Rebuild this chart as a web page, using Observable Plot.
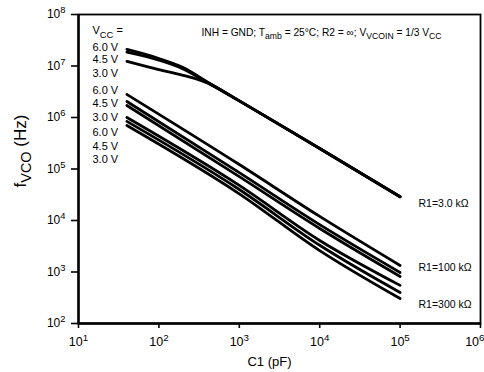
<!DOCTYPE html>
<html><head><meta charset="utf-8">
<script src="https://cdn.jsdelivr.net/npm/d3@7"></script>
<script src="https://cdn.jsdelivr.net/npm/@observablehq/plot@0.6"></script>
<style>
body{margin:0;background:#fff}
svg{font-family:"Liberation Sans",Arial,Helvetica,sans-serif}
</style>
</head><body><div id="chart"></div>
<script>
// ---- data ----
const vccLabels = ["6.0 V", "4.5 V", "3.0 V"];
const r1Labels = ["R1=3.0 kΩ", "R1=100 kΩ", "R1=300 kΩ"];
const xTicks = [1e1, 1e2, 1e3, 1e4, 1e5, 1e6];
const yTicks = [1e2, 1e3, 1e4, 1e5, 1e6, 1e7, 1e8];
const conditionText = "INH = GND; T_{amb} = 25°C; R2 = ∞; V_{VCOIN} = 1/3 V_{CC}";
const vccTitle = "V_{CC} =";
const xLabel = "C1 (pF)";
const yLabel = "f_{VCO} (Hz)";

// R1 = 3.0 kΩ
const c1A = [40, 100, 200, 400, 1000, 10000, 100000];
const f3k_60 = [2.1e7, 1.4e7, 9.3e6, 4.9e6, 2.1e6, 2.5e5, 2.9e4];
const f3k_45 = [1.85e7, 1.3e7, 8.8e6, 4.8e6, 2.1e6, 2.5e5, 2.9e4];
const f3k_30 = [1.23e7, 8.5e6, 6.6e6, 4.7e6, 2.1e6, 2.5e5, 2.9e4];
// R1 = 100 kΩ and 300 kΩ
const c1B = [40, 1000, 10000, 100000];
const f100k_60 = [2.8e6, 1.22e5, 1.2e4, 1.34e3];
const f100k_45 = [2.04e6, 8.5e4, 8.3e3, 980];
const f100k_30 = [1.71e6, 7.1e4, 7.0e3, 820];
const f300k_60 = [1.0e6, 4.8e4, 4.1e3, 550];
const f300k_45 = [8.4e5, 4.0e4, 3.3e3, 400];
const f300k_30 = [7.0e5, 3.3e4, 2.6e3, 305];

// ---- build table ----
const series = [
  ["3k-6.0", c1A, f3k_60], ["3k-4.5", c1A, f3k_45], ["3k-3.0", c1A, f3k_30],
  ["100k-6.0", c1B, f100k_60], ["100k-4.5", c1B, f100k_45], ["100k-3.0", c1B, f100k_30],
  ["300k-6.0", c1B, f300k_60], ["300k-4.5", c1B, f300k_45], ["300k-3.0", c1B, f300k_30]
];
const rows = series.flatMap(([id, xs, ys]) => xs.map((c, i) => ({id, c1: c, f: ys[i]})));

const legendRows = [0, 1, 2].flatMap(() => vccLabels);
const legendDy = [29, 41, 55, 72, 85, 99, 114, 128, 141];
const r1Dy = [185, 249, 286];

const expFmt = d => `10^{${Math.round(Math.log10(d))}}`;

const marks = [
  Plot.frame({stroke: "black", strokeWidth: 1.8}),
  Plot.axisX({ticks: xTicks, tickFormat: expFmt, tickSize: 5, tickPadding: 9, label: null, fontSize: 12.5, strokeWidth: 1.6}),
  Plot.axisY({ticks: yTicks, tickFormat: expFmt, tickSize: 7, tickPadding: 6, label: null, fontSize: 12, strokeWidth: 1.6}),
  Plot.ruleX([10], {stroke: "black", strokeWidth: 2.4}),
  Plot.ruleY([100], {stroke: "black", strokeWidth: 2.4}),
  Plot.line(rows, {x: "c1", y: "f", z: "id", stroke: "black", strokeWidth: 2.8, curve: "monotone-x"}),
  Plot.text([vccTitle], {frameAnchor: "top-left", dx: 14, dy: 12, textAnchor: "start", fontSize: 11}),
  ...legendRows.map((t, i) => Plot.text([t], {frameAnchor: "top-left", dx: 14, dy: legendDy[i], textAnchor: "start", fontSize: 11})),
  ...r1Labels.map((t, i) => Plot.text([t], {frameAnchor: "top-left", dx: 340, dy: r1Dy[i], textAnchor: "start", fontSize: 10.5})),
  Plot.text([conditionText], {frameAnchor: "top-left", dx: 123, dy: 14, textAnchor: "start", fontSize: 10.2}),
  Plot.text([xLabel], {frameAnchor: "bottom", dx: -10, dy: 42, fontSize: 13}),
  Plot.text([yLabel], {frameAnchor: "left", dx: -58, dy: -18, rotate: -90, textAnchor: "middle", fontSize: 17, letterSpacing: 1})
];

const plot = Plot.plot({
  width: 484, height: 372,
  marginLeft: 78, marginRight: 4, marginTop: 14, marginBottom: 49,
  x: {type: "log", domain: [10, 1e6]},
  y: {type: "log", domain: [1e2, 1e8]},
  style: {background: "white", color: "black", fontFamily: "'Liberation Sans', Arial, sans-serif"},
  marks
});
document.getElementById("chart").appendChild(plot);

// ---- rich text (sub/superscripts) ----
function rich(el) {
  const str = el.textContent;
  if (!/[_^]\{/.test(str)) return;
  const fs = parseFloat(getComputedStyle(el).fontSize) || 12;
  el.textContent = "";
  const re = /([_^])\{([^}]*)\}/g;
  let last = 0, m, shift = 0;
  const add = (txt, kind) => {
    if (!txt) return;
    const ts = document.createElementNS("http://www.w3.org/2000/svg", "tspan");
    const target = kind === "_" ? fs * 0.3 : kind === "^" ? -fs * 0.42 : 0;
    if (target - shift !== 0) ts.setAttribute("dy", target - shift);
    shift = target;
    if (kind) ts.setAttribute("font-size", (fs * (kind === "^" ? 0.78 : 0.85)) + "px");
    ts.textContent = txt;
    el.appendChild(ts);
  };
  while ((m = re.exec(str))) { add(str.slice(last, m.index), null); add(m[2], m[1]); last = re.lastIndex; }
  add(str.slice(last), null);
}
d3.select(plot).selectAll("text").each(function() { rich(this); });

// keep the last x tick label inside the picture
const xLabels = d3.select(plot).selectAll('g[aria-label="x-axis tick label"] text').nodes();
if (xLabels.length) {
  const lastLab = xLabels[xLabels.length - 1];
  lastLab.setAttribute("text-anchor", "end");
  lastLab.setAttribute("dx", "4");
}
</script>
</body></html>
